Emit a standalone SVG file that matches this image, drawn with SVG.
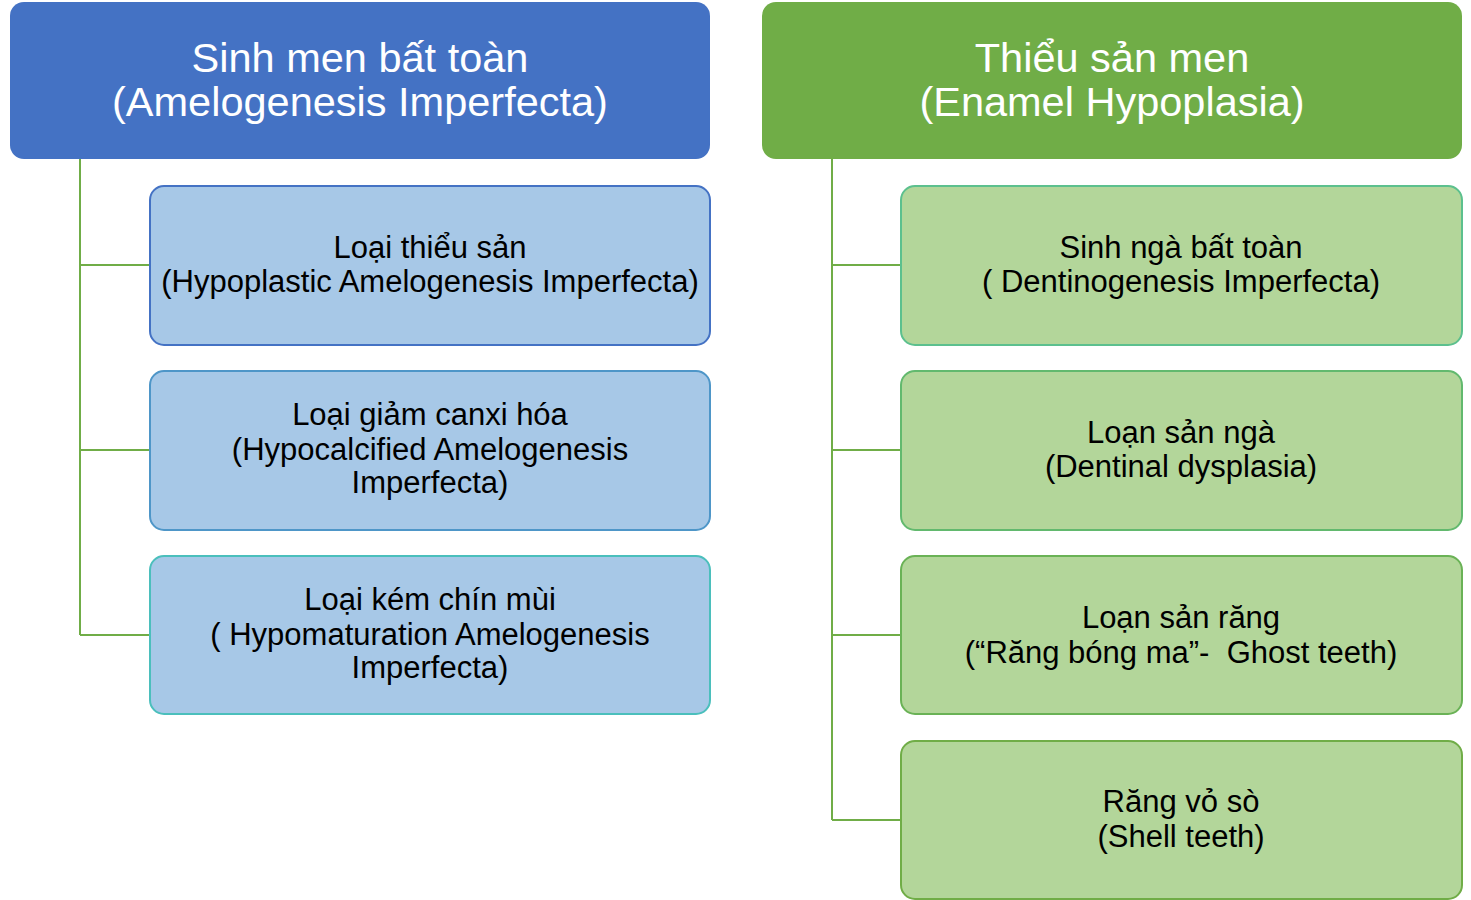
<svg xmlns="http://www.w3.org/2000/svg" width="1471" height="900" viewBox="0 0 1471 900">
<style>
text{font-family:"Liberation Sans","DejaVu Sans",sans-serif;text-anchor:middle;white-space:pre}
.t{font-size:41.5px;fill:#ffffff}
.c{font-size:31px;fill:#000000}
.lb{fill:#A7C8E7;stroke-width:2}
.gb{fill:#B3D69A;stroke-width:2}
.con{stroke:#70AD47;stroke-width:2;fill:none}
</style>
<rect width="1471" height="900" fill="#ffffff"/>
<g id="connectors">
<path class="con" d="M80 159V635M80 265H150M80 450H150M80 635H150"/>
<path class="con" d="M832 159V820M832 265H901M832 450H901M832 635H901M832 820H901"/>
</g>
<g id="h1">
<rect x="10" y="2" width="700" height="157" rx="14" fill="#4472C4"/>
<text class="t" x="360" y="72">Sinh men bất toàn</text>
<text class="t" x="360" y="116">(Amelogenesis Imperfecta)</text>
</g>
<g id="h2">
<rect x="762" y="2" width="700" height="157" rx="14" fill="#70AD47"/>
<text class="t" x="1112" y="72">Thiểu sản men</text>
<text class="t" x="1112" y="116">(Enamel Hypoplasia)</text>
</g>
<g id="l1">
<rect class="lb" x="150" y="186" width="560" height="159" rx="14" stroke="#4472C4"/>
<text class="c" x="430" y="258">Loại thiểu sản</text>
<text class="c" x="430" y="292">(Hypoplastic Amelogenesis Imperfecta)</text>
</g>
<g id="l2">
<rect class="lb" x="150" y="371" width="560" height="159" rx="14" stroke="#4E96C8"/>
<text class="c" x="430" y="425">Loại giảm canxi hóa</text>
<text class="c" x="430" y="460">(Hypocalcified Amelogenesis</text>
<text class="c" x="430" y="493">Imperfecta)</text>
</g>
<g id="l3">
<rect class="lb" x="150" y="556" width="560" height="158" rx="14" stroke="#4BBFBC"/>
<text class="c" x="430" y="610">Loại kém chín mùi</text>
<text class="c" x="430" y="645">( Hypomaturation Amelogenesis</text>
<text class="c" x="430" y="678">Imperfecta)</text>
</g>
<g id="r1">
<rect class="gb" x="901" y="186" width="561" height="159" rx="14" stroke="#5CC08E"/>
<text class="c" x="1181" y="258">Sinh ngà bất toàn</text>
<text class="c" x="1181" y="292">( Dentinogenesis Imperfecta)</text>
</g>
<g id="r2">
<rect class="gb" x="901" y="371" width="561" height="159" rx="14" stroke="#62B96E"/>
<text class="c" x="1181" y="443">Loạn sản ngà</text>
<text class="c" x="1181" y="477">(Dentinal dysplasia)</text>
</g>
<g id="r3">
<rect class="gb" x="901" y="556" width="561" height="158" rx="14" stroke="#6AB256"/>
<text class="c" x="1181" y="628">Loạn sản răng</text>
<text class="c" x="1181" y="663">(“Răng bóng ma”-  Ghost teeth)</text>
</g>
<g id="r4">
<rect class="gb" x="901" y="741" width="561" height="158" rx="14" stroke="#70AD47"/>
<text class="c" x="1181" y="812">Răng vỏ sò</text>
<text class="c" x="1181" y="847">(Shell teeth)</text>
</g>
</svg>
